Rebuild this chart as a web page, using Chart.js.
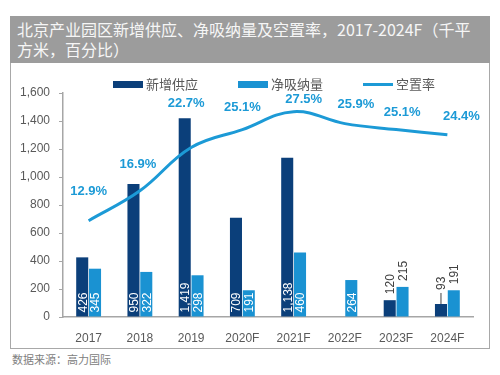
<!DOCTYPE html>
<html>
<head>
<meta charset="utf-8">
<script src="https://cdn.jsdelivr.net/npm/chart.js@4.4.1/dist/chart.umd.min.js"></script>
<style>
  html, body { margin: 0; padding: 0; background: #fff; }
  body { width: 500px; height: 375px; position: relative; overflow: hidden; font-family: "Noto Sans CJK SC", sans-serif; }
  .title { position: absolute; left: 10px; top: 16px; width: 466px; height: 44px; padding: 3px 7px 0 7px; background: #9c9c9c; color: #f6f6f6; font-size: 16px; line-height: 20px; white-space: nowrap; }
  .box { position: absolute; left: 10px; top: 63px; width: 478px; height: 285px; border: 1px solid #a8a8a8; border-top: none; }
  .box canvas { position: absolute; left: 0; top: 0; }
  .legend-item { position: absolute; top: 76px; height: 16px; font-size: 13px; line-height: 16px; color: #595959; }
  .legend-item .sw { position: absolute; left: 0; }
  .legend-item span.txt { position: absolute; left: 33px; top: 0; white-space: nowrap; }
  .source { position: absolute; left: 12px; top: 352px; font-size: 11px; line-height: 14px; color: #808080; }
</style>
</head>
<body>
<div class="title">北京产业园区新增供应、净吸纳量及空置率，2017-2024F（千平<br>方米，百分比）</div>
<div class="box"><canvas id="chart" width="478" height="285"></canvas></div>
<div class="legend-item" style="left:113px"><div class="sw" style="top:5px;width:30px;height:7px;background:#0b3f7a"></div><span class="txt">新增供应</span></div>
<div class="legend-item" style="left:238px"><div class="sw" style="top:5px;width:30px;height:7px;background:#1a92d2"></div><span class="txt">净吸纳量</span></div>
<div class="legend-item" style="left:363px"><div class="sw" style="top:7px;width:30px;height:3px;background:#1c9ad6"></div><span class="txt">空置率</span></div>
<div class="source">数据来源：高力国际</div>

<script>
// data
const years = ['2017', '2018', '2019', '2020F', '2021F', '2022F', '2023F', '2024F'];
const newSupply = [426, 950, 1419, 709, 1138, null, 120, 93];       // 千平方米
const netAbsorption = [345, 322, 298, 191, 460, 264, 215, 191];     // 千平方米
const vacancyRate = [12.9, 16.9, 22.7, 25.1, 27.5, 25.9, 25.1, 24.4]; // %

const darkBlue = '#0b3f7a';
const lightBlue = '#1a92d2';
const lineBlue = '#1c9ad6';
const axisGray = '#a6a6a6';
const tickGray = '#595959';

// categories whose bar values sit above the bar instead of inside it
const labelsAbove = ['2023F', '2024F'];

const valueLabels = {
  id: 'valueLabels',
  afterDatasetsDraw(chart) {
    const ctx = chart.ctx;
    ctx.save();

    // bar values, written vertically
    [1, 2].forEach(di => {
      const meta = chart.getDatasetMeta(di);
      const values = chart.data.datasets[di].data;
      meta.data.forEach((bar, i) => {
        const v = values[i];
        if (v == null) return;
        const text = v.toLocaleString('en-US');
        ctx.font = '12px "Liberation Sans", sans-serif';
        let y;
        if (labelsAbove.includes(years[i])) {
          ctx.fillStyle = '#404040';
          let gap = 6;
          // tiny bar gets a leader line
          if (bar.base - bar.y < 15) {
            gap = 14;
            ctx.strokeStyle = '#404040';
            ctx.lineWidth = 1;
            ctx.beginPath();
            ctx.moveTo(bar.x, bar.y);
            ctx.lineTo(bar.x, bar.y - 11);
            ctx.stroke();
          }
          y = bar.y - gap;
        } else {
          ctx.fillStyle = '#ffffff';
          y = bar.base - 4;
        }
        ctx.save();
        ctx.translate(bar.x, y);
        ctx.rotate(-Math.PI / 2);
        ctx.textAlign = 'left';
        ctx.textBaseline = 'middle';
        ctx.fillText(text, 0, 1);
        ctx.restore();
      });
    });

    // vacancy rate labels
    const dx = [0, -2, -5, 0, 10, 11, 6, 14];
    const dy = [-29, -26, -44, -22, -12, -19, -17, -18];
    const lineMeta = chart.getDatasetMeta(0);
    ctx.font = 'bold 13px "Liberation Sans", sans-serif';
    ctx.fillStyle = lineBlue;
    ctx.textAlign = 'center';
    ctx.textBaseline = 'middle';
    lineMeta.data.forEach((pt, i) => {
      ctx.fillText(vacancyRate[i].toFixed(1) + '%', pt.x + dx[i], pt.y + dy[i]);
    });

    ctx.restore();
  }
};

new Chart(document.getElementById('chart'), {
  data: {
    labels: years,
    datasets: [
      {
        type: 'line',
        label: '空置率',
        data: vacancyRate,
        yAxisID: 'y1',
        borderColor: lineBlue,
        backgroundColor: lineBlue,
        borderWidth: 3,
        pointRadius: 0,
        tension: 0.4,
        order: 0
      },
      {
        type: 'bar',
        label: '新增供应',
        data: newSupply,
        backgroundColor: darkBlue,
        categoryPercentage: 0.5,
        barPercentage: 0.94,
        order: 1
      },
      {
        type: 'bar',
        label: '净吸纳量',
        data: netAbsorption,
        backgroundColor: lightBlue,
        categoryPercentage: 0.5,
        barPercentage: 0.94,
        order: 2
      }
    ]
  },
  options: {
    responsive: false,
    animation: false,
    layout: { padding: { top: 30, right: 16, left: 0, bottom: 0 } },
    plugins: {
      legend: { display: false },
      tooltip: { enabled: false }
    },
    scales: {
      x: {
        afterFit: (axis) => { axis.height = 31; },
        grid: { display: false },
        border: { display: true, color: axisGray, width: 1.5 },
        ticks: {
          color: tickGray,
          padding: 6,
          font: { family: '"Liberation Sans", sans-serif', size: 12 }
        }
      },
      y: {
        min: 0,
        max: 1600,
        afterFit: (axis) => { axis.width = 52; },
        grid: { drawOnChartArea: false, tickLength: 4, color: axisGray },
        border: { display: true, color: axisGray, width: 1.5 },
        ticks: {
          stepSize: 200,
          color: tickGray,
          padding: 9,
          font: { family: '"Liberation Sans", sans-serif', size: 12 },
          callback: (v) => v.toLocaleString('en-US')
        }
      },
      y1: {
        display: false,
        position: 'right',
        min: 0,
        max: 30
      }
    }
  },
  plugins: [valueLabels]
});
</script>
</body>
</html>
